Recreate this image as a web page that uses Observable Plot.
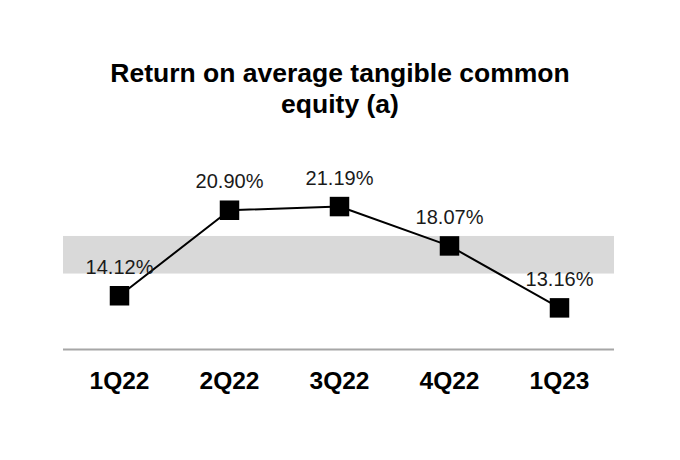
<!DOCTYPE html>
<html>
<head>
<meta charset="utf-8">
<script src="https://cdn.jsdelivr.net/npm/d3@7"></script>
<script src="https://cdn.jsdelivr.net/npm/@observablehq/plot@0.6"></script>
<style>
  html, body { margin: 0; padding: 0; background: #fff; }
  body { width: 680px; height: 460px; overflow: hidden; font-family: "Liberation Sans", Arial, sans-serif; }
  #title { box-sizing: border-box; width: 680px; height: 120px; padding-top: 58px; text-align: center;
           font-size: 26.5px; line-height: 31px; font-weight: bold; color: #000; }
  #chart svg { display: block; }
</style>
</head>
<body>
<div id="title">Return on average tangible common<br>equity (a)</div>
<div id="chart"></div>
<script>
const quarters = ["1Q22", "2Q22", "3Q22", "4Q22", "1Q23"];
const rotce = [14.12, 20.90, 21.19, 18.07, 13.16];
const valueLabels = ["14.12%", "20.90%", "21.19%", "18.07%", "13.16%"];
const bandRange = [15.84, 18.82];
const yDomain = [9.86, 25];

const data = quarters.map((q, i) => ({ q, v: rotce[i], label: valueLabels[i] }));

const chart = Plot.plot({
  width: 680,
  height: 340,
  marginLeft: 63,
  marginRight: 66,
  marginTop: 38,
  marginBottom: 111,
  style: { fontFamily: "Liberation Sans, Arial, sans-serif", background: "#fff" },
  x: { type: "point", domain: quarters, padding: 0.5, label: null },
  y: { domain: yDomain, axis: null },
  marks: [
    Plot.rect([bandRange], { y1: d => d[0], y2: d => d[1], fill: "#d9d9d9" }),
    Plot.ruleY([yDomain[0]], { stroke: "#a6a6a6", strokeWidth: 2 }),
    Plot.axisX({ tickSize: 0, tickPadding: 22, fontSize: 24.5, fontWeight: "bold", fill: "#000", label: null }),
    Plot.line(data, { x: "q", y: "v", stroke: "#000", strokeWidth: 2 }),
    Plot.dot(data, { x: "q", y: "v", symbol: "square", r: 11, fill: "#000", stroke: "none" }),
    Plot.text(data, { x: "q", y: "v", text: "label", lineAnchor: "bottom", dy: -22, fontSize: 20, fill: "#1a1a1a" })
  ]
});
document.getElementById("chart").appendChild(chart);
</script>
</body>
</html>
